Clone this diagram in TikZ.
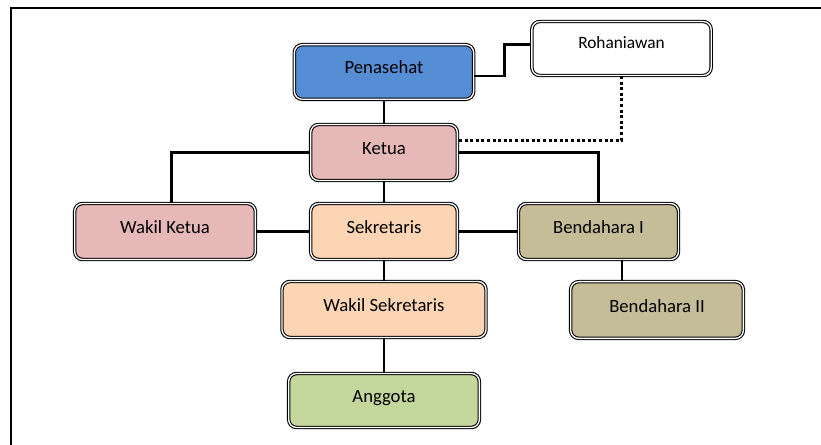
\documentclass[tikz,border=0pt]{standalone}
\usepackage{fontspec}
\setmainfont{Carlito}
\usetikzlibrary{calc}
\usetikzlibrary{positioning}

\definecolor{penblau}{HTML}{558ED5}
\definecolor{ketrosa}{HTML}{E6B8B7}
\definecolor{sekorange}{HTML}{FCD5B5}
\definecolor{anggruen}{HTML}{C3D69B}
\definecolor{benbraun}{HTML}{C4BD97}

\begin{document}
\begin{tikzpicture}[
  x=0.75pt, y=-0.75pt,
  every node/.style={font=\fontsize{14}{16}\selectfont},
  unit/.style={draw, rounded corners=6pt, line width=0.8pt, double=white, double distance=1pt,
    inner sep=0pt, text height=10pt, text depth=7pt},
  link/.style={line width=2.2pt},
  dots/.style={line width=2.2pt, dash pattern=on 2.2pt off 2pt}
  ]
	\useasboundingbox (0,0) rectangle (821,445);
	\draw[link] (11,445) |- (821,8);

	\node[unit, fill=penblau, minimum width=134.5pt, minimum height=41pt] (pen) at (384,72) {Penasehat};
	\node[unit, fill=white, minimum width=134.5pt, minimum height=40.5pt, text height=9pt, text depth=9pt,
	  font=\fontsize{13}{15}\selectfont] (roh) at (621.5,48.5) {Rohaniawan};
	\node[unit, fill=ketrosa, minimum width=110pt, minimum height=42pt] (ket) at (384,152.5) {Ketua};
	\node[unit, fill=ketrosa, minimum width=135.5pt, minimum height=42pt] (wkt) at (165,231.5) {Wakil Ketua};
	\node[unit, fill=sekorange, minimum width=110pt, minimum height=42pt] (sek) at (384,231.5) {Sekretaris};
	\node[unit, fill=benbraun, minimum width=120pt, minimum height=42pt] (ben1) at (598.5,231.5) {Bendahara I};
	\node[unit, fill=sekorange, minimum width=153pt, minimum height=42pt] (wsek) at (384,309.5) {Wakil Sekretaris};
	\node[unit, fill=benbraun, minimum width=129.5pt, minimum height=42.5pt] (ben2) at (657,310) {Bendahara II};
	\node[unit, fill=anggruen, minimum width=143pt, minimum height=40.5pt] (ang) at (384,400.5) {Anggota};

	\draw[link] ([yshift=-3pt]pen.east) -- ++(30,0) |- ([yshift=3pt]roh.west);
	\draw[dots] (roh.south) |- ([yshift=9pt]ket.east);
	\draw[link] (pen.south) -- (ket.north);
	\draw[link] (ket.east) -| (ben1.north);
	\draw[link] (ket.west) -| ([xshift=5pt]wkt.north);
	\draw[link] (ket.south) -- (sek.north);
	\draw[link] (wkt.east) -- (sek.west);
	\draw[link] (sek.east) -- (ben1.west);
	\draw[link] (sek.south) -- (wsek.north);
	\draw[link] (wsek.south) -- (ang.north);

	\coordinate (b1) at ([xshift=17.6pt]ben1.south);
	\draw[link] (b1) -- (b1 |- ben2.north);

\end{tikzpicture}
\end{document}
